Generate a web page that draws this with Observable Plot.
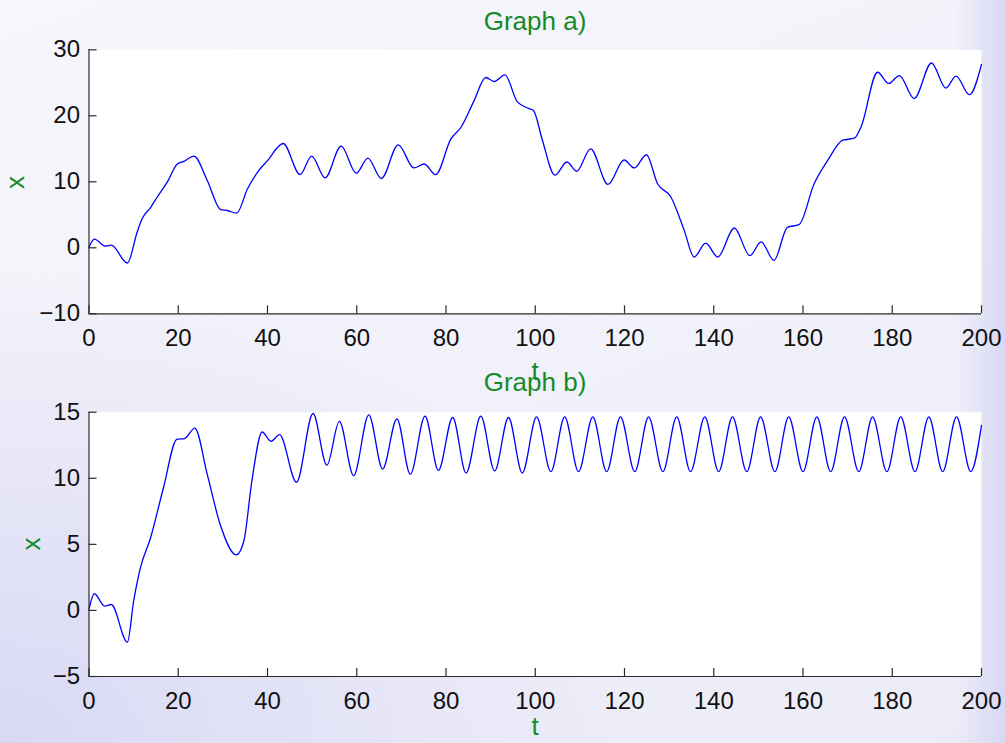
<!DOCTYPE html>
<html>
<head>
<meta charset="utf-8">
<script src="https://cdn.jsdelivr.net/npm/d3@7"></script>
<script src="https://cdn.jsdelivr.net/npm/@observablehq/plot@0.6"></script>
<style>
html, body { margin: 0; padding: 0; }
body {
  width: 1005px; height: 743px; overflow: hidden; position: relative;
  background:
    linear-gradient(to right, rgba(216,216,244,0) 0%, rgba(216,216,244,0) 95%, rgba(216,216,244,1) 100%),
    radial-gradient(ellipse at 0% 100%, rgba(216,216,244,1) 0%, rgba(216,216,244,0) 45%),
    linear-gradient(160deg, #f6f6fc 0%, #ececf8 100%);
}
.panel { position: absolute; left: 0; }
#labels { position: absolute; left: 0; top: 0; pointer-events: none; }
</style>
</head>
<body>
<div id="a" class="panel" style="top:0px"></div>
<div id="b" class="panel" style="top:362px"></div>
<svg id="labels" width="1005" height="743"></svg>
<script>
// ---- data ----
const titles = ["Graph a)", "Graph b)"];
const xLabel = "t";
const yLabel = "x";
const xTicks = [0, 20, 40, 60, 80, 100, 120, 140, 160, 180, 200];
const yTicksA = [-10, 0, 10, 20, 30];
const yTicksB = [-5, 0, 5, 10, 15];

const tA = [0,1.2,3.7,5.0,8.6,10.8,11.9,13.8,15.3,17.5,19.8,21.3,23.5,26.5,29.5,31.0,33.1,35.5,37.7,40.0,
  43.5,47.3,49.9,52.9,56.5,59.9,62.5,65.5,69.3,72.8,75.1,77.7,81.1,83.4,86.3,88.9,90.8,93.2,96.0,98.6,99.6,
  101.6,104.4,107.1,109.3,112.4,116.3,119.9,122.2,124.9,127.4,130.4,133.4,135.6,138.2,140.9,144.6,148.1,150.6,153.5,
  156.5,159.1,162.5,165.5,168.9,171.5,173.0,176.7,179.2,181.6,184.9,188.8,192.0,194.3,197.3,200];
const xA = [0.1,1.3,0.25,0.4,-2.3,2.4,4.4,6.1,7.7,9.9,12.7,13.1,13.9,10.2,5.8,5.65,5.25,8.9,11.4,13.2,
  15.8,11.1,13.9,10.6,15.4,11.3,13.6,10.5,15.6,12.1,12.7,11.1,16.5,18.3,22.3,25.8,25.2,26.2,22.1,21.1,20.8,
  16.3,11.0,13.0,11.6,15.0,9.6,13.3,12.1,14.1,9.7,7.7,2.6,-1.4,0.7,-1.4,3.0,-1.2,0.9,-1.9,
  3.1,3.5,9.7,13.2,16.3,16.6,18.3,26.6,24.9,26.1,22.6,28.0,24.2,26.0,23.2,27.8];

const tB = [0,1.2,3.5,5.0,8.6,10.0,11.5,13.8,16.7,19.7,21.4,23.7,26.5,29.4,33.0,34.7,36.5,38.8,40.8,42.7,
  46.5,50.2,53.3,56.1,59.3,62.7,65.8,69.0,72.0,75.3,78.3,81.5,84.5,87.8,90.9,94.0,97.1,
  100.3,103.5,106.6,109.7,112.9,116.0,119.1,122.3,125.4,128.6,131.7,134.8,138.0,141.1,144.2,147.4,
  150.5,153.7,156.8,160.0,163.1,166.2,169.3,172.5,175.6,178.8,181.9,185.1,188.2,191.3,194.4,197.6,200];
const xB = [0.1,1.26,0.33,0.45,-2.4,0.7,3.2,5.5,9.3,12.95,13.0,13.8,10.3,6.5,4.2,5.25,9.8,13.5,12.8,13.3,
  9.7,14.9,11.0,14.3,10.2,14.8,10.7,14.5,10.3,14.7,10.6,14.6,10.4,14.7,10.55,14.6,10.4,
  14.65,10.5,14.65,10.5,14.65,10.5,14.65,10.5,14.65,10.5,14.65,10.5,14.65,10.5,14.65,10.5,
  14.65,10.5,14.65,10.5,14.65,10.5,14.65,10.5,14.65,10.5,14.65,10.5,14.65,10.5,14.65,10.5,14.0];

// ---- styles ----
const FONT = "'Liberation Sans', Arial, Helvetica, sans-serif";
const GREEN = "#168a26";
const AXIS = "#2a2a2a";

function panel(t, x, yDomain, yTicks, height, mTop, mBottom) {
  const data = t.map((d, i) => ({t: d, x: x[i]}));
  return Plot.plot({
    width: 1005,
    height,
    marginTop: mTop,
    marginBottom: mBottom,
    marginLeft: 88.5,
    marginRight: 24,
    style: {background: "transparent", fontFamily: FONT, fontSize: "24px", color: "#111", overflow: "visible"},
    x: {domain: [0, 200]},
    y: {domain: yDomain},
    marks: [
      Plot.frame({fill: "white", stroke: "none"}),
      Plot.line(data, {x: "t", y: "x", stroke: "#0000ff", strokeWidth: 1.3, curve: "monotone-x"}),
      Plot.ruleX([0], {stroke: AXIS, strokeWidth: 1.2}),
      Plot.ruleY([yDomain[0]], {stroke: AXIS, strokeWidth: 1.2}),
      Plot.axisX(xTicks, {tickSize: -8, tickPadding: 23, label: null, stroke: AXIS, strokeWidth: 1.2}),
      Plot.axisY(yTicks, {tickSize: -8, tickPadding: 17, label: null, stroke: AXIS, strokeWidth: 1.2})
    ]
  });
}

document.getElementById("a").appendChild(panel(tA, xA, [-10, 30], yTicksA, 362, 49.3, 362 - 313.3));
document.getElementById("b").appendChild(panel(tB, xB, [-5, 15], yTicksB, 381, 49.7, 381 - 314));

// ---- titles and axis labels ----
const svg = d3.select("#labels");
const lab = [
  {text: titles[0], x: 535, y: 30, rot: false},
  {text: xLabel, x: 535, y: 380, rot: false},
  {text: titles[1], x: 535, y: 391, rot: false},
  {text: xLabel, x: 535, y: 735, rot: false},
  {text: yLabel, x: 24, y: 182.5, rot: true},
  {text: yLabel, x: 40, y: 544, rot: true}
];
svg.selectAll("text").data(lab).join("text")
  .attr("transform", d => `translate(${d.x},${d.y})` + (d.rot ? " rotate(-90)" : ""))
  .attr("text-anchor", "middle")
  .attr("font-family", FONT)
  .attr("font-size", 26)
  .attr("fill", GREEN)
  .text(d => d.text);
</script>
</body>
</html>
